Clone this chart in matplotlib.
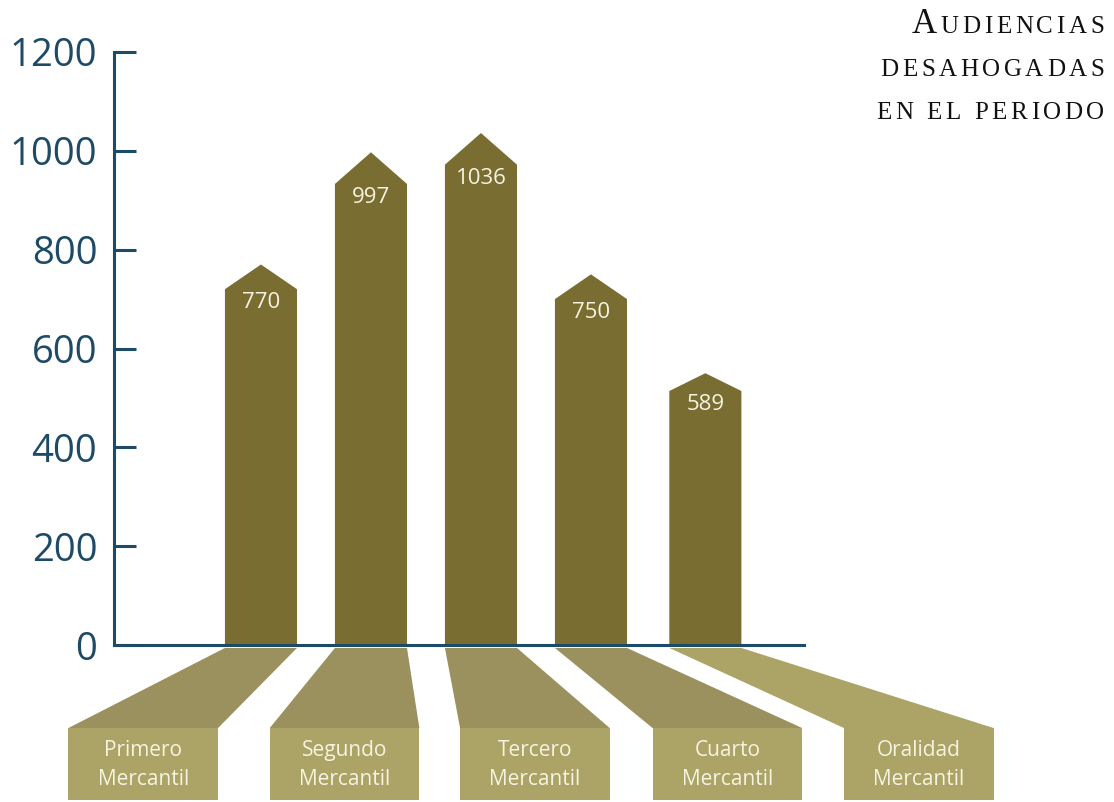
import matplotlib
matplotlib.use("Agg")
import matplotlib.pyplot as plt
from matplotlib.patches import Polygon, Rectangle

# data
categories = ["Primero\nMercantil", "Segundo\nMercantil", "Tercero\nMercantil",
              "Cuarto\nMercantil", "Oralidad\nMercantil"]
labels = [770, 997, 1036, 750, 589]
heights = [770, 997, 1036, 750, 550]   # drawn height of each arrow bar
yticks = [0, 200, 400, 600, 800, 1000, 1200]

# layout
bar_pos = [0, 1, 2, 3, 4.04]
box_pos = [-1.07, 0.76, 2.49, 4.24, 5.98]
tips = [50, 64, 64, 50, 36]   # height of each arrow point, in value units
bar_w = 0.655
box_w = 1.36
box_top, box_bot = -168, -314

AXIS = "#1d4a66"
BAR = "#7a6d31"
LINK = "#9a915f"
BOX = "#aca466"
LIGHT = "#f6f3e2"

fig = plt.figure(figsize=(11.14, 8.02), dpi=100)
ax = fig.add_axes([114 / 1114, 157 / 802, 690 / 1114, 593 / 802])
ax.set_xlim(-1.336, -1.336 + 690 / 110)
ax.set_ylim(0, 1200)
ax.patch.set_alpha(0)

for s in ["top", "right"]:
    ax.spines[s].set_visible(False)
for s in ["left", "bottom"]:
    ax.spines[s].set_color(AXIS)
    ax.spines[s].set_linewidth(2.2)
    ax.spines[s].set_zorder(5)
ax.set_xticks([])
ax.set_yticks(yticks)
ax.tick_params(axis="y", direction="in", length=16, width=2.2, color=AXIS,
               labelcolor=AXIS, labelsize=27.5, pad=12)
for t in ax.get_yticklabels():
    t.set_fontfamily("Open Sans")

for i, (x, h) in enumerate(zip(bar_pos, heights)):
    l, r = x - bar_w / 2, x + bar_w / 2
    sh = h - tips[i]
    ax.add_patch(Polygon([(l, 0), (l, sh), (x, h), (r, sh), (r, 0)],
                         closed=True, facecolor=BAR, edgecolor="none", zorder=2))
    ax.text(x, sh - 27, str(labels[i]), ha="center", va="center",
            color=LIGHT, fontsize=16, family="Open Sans", zorder=3)

    # connector from the bar foot down to the label box
    bl, br = box_pos[i] - box_w / 2, box_pos[i] + box_w / 2
    ax.add_patch(Polygon([(l, -6), (r, -6), (br, box_top), (bl, box_top)],
                         closed=True, facecolor=BOX if i == 4 else LINK,
                         edgecolor="none", clip_on=False, zorder=1))
    ax.add_patch(Rectangle((bl, box_bot), box_w, box_top - box_bot,
                           facecolor=BOX, edgecolor="none", clip_on=False, zorder=1))
    ax.text(box_pos[i], (box_top + box_bot) / 2 - 2, categories[i], ha="center",
            va="center", color=LIGHT, fontsize=15, family="Open Sans",
            linespacing=1.45, clip_on=False, zorder=3)

# title in letter-spaced small caps, right aligned
fig.canvas.draw()
rend = fig.canvas.get_renderer()
title_lines = [
    [("A", 25), ("UDIENCIAS", 18)],
    [("DESAHOGADAS", 18)],
    [("EN EL PERIODO", 18)],
]
track = 3.6  # px between letters
for k, parts in enumerate(title_lines):
    x = 1104.0
    y = 1 - (33 + 43 * k) / 802
    for txt, size in reversed(parts):
        for ch in reversed(txt):
            if ch == " ":
                x -= size * 0.35 + track
                continue
            t = fig.text(x / 1114, y, ch, ha="right", va="baseline", fontsize=size,
                         family="Liberation Serif", color="#111111")
            x -= t.get_window_extent(rend).width + track

fig.savefig("out.png", dpi=100)
